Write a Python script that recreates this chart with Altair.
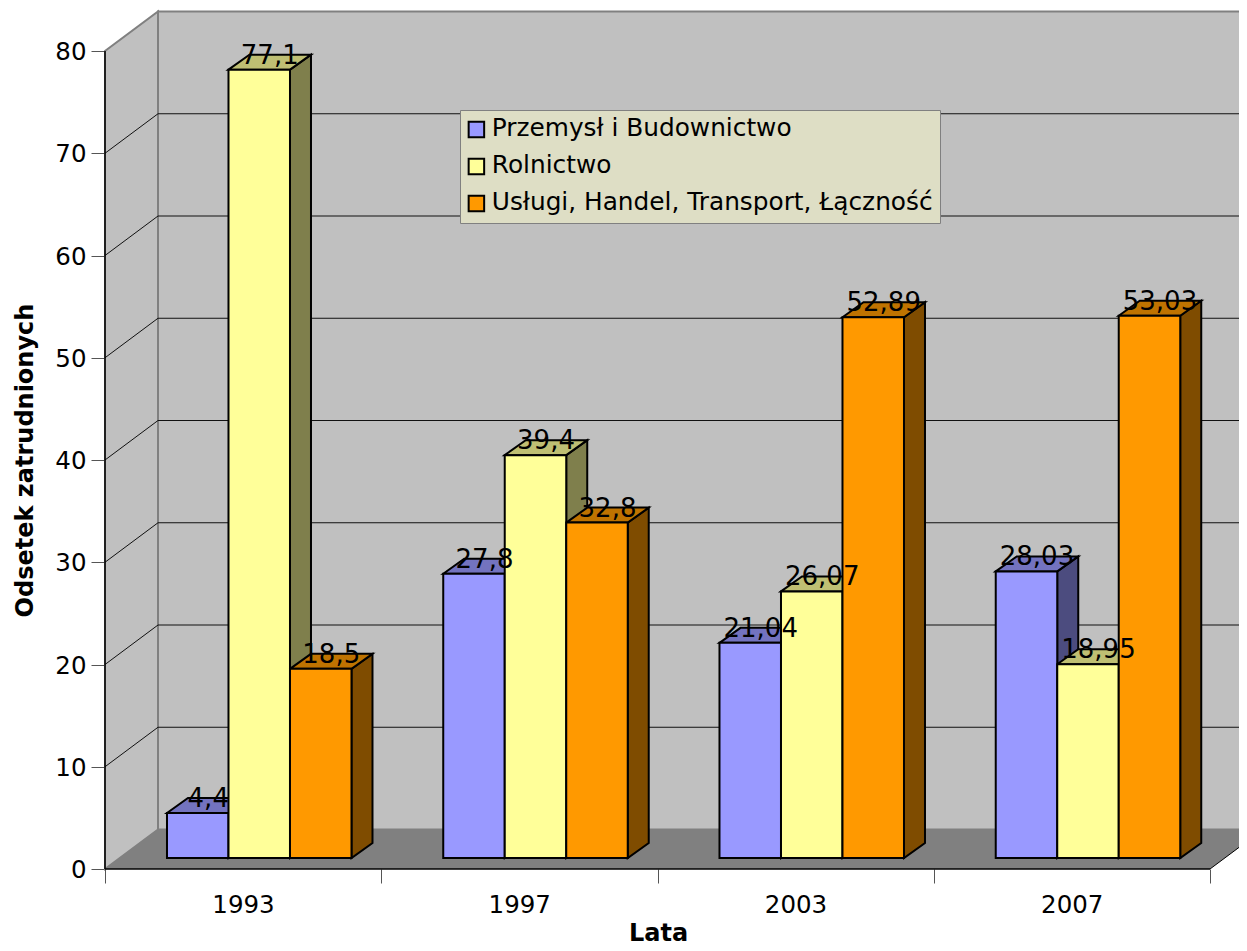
import altair as alt
import pandas as pd

years = ["1993", "1997", "2003", "2007"]
series = ["Przemysł i Budownictwo", "Rolnictwo", "Usługi, Handel, Transport, Łączność"]
przemysl = [4.4, 27.8, 21.04, 28.03]
rolnictwo = [77.1, 39.4, 26.07, 18.95]
uslugi = [18.5, 32.8, 52.89, 53.03]
front_colors = ["#9999FF", "#FFFF99", "#FF9900"]
top_colors = ["#7373BF", "#BFBF73", "#BF7300"]
side_colors = ["#4C4C7F", "#7F7F4C", "#7F4C00"]
y_ticks = [0, 10, 20, 30, 40, 50, 60, 70, 80]

FONT = "DejaVu Sans"
PX_X = 276.25
PX_Y = 10.225
W_D, W_H = 53 / PX_X, 39.5 / PX_Y    # depth of the box
B_D, B_H = 21 / PX_X, 15 / PX_Y      # depth of a bar
BASE = 11 / PX_Y
OFF, BW = 0.2244, 61.5 / PX_X
XEND = 4 + W_D
plot_w, plot_h = 1134, 858
XMAX = plot_w / PX_X
YMAX = plot_h / PX_Y

fronts, tops, sides, labels = [], [], [], []
for i, year in enumerate(years):
    for j, vals in enumerate([przemysl, rolnictwo, uslugi]):
        v = vals[i]
        x0 = i + OFF + j * BW
        t = BASE + v
        bid = f"{year}-{j}"
        fronts.append(dict(x=x0, x2=x0 + BW, y=t, y2=BASE, s=series[j]))
        for px, py, py2 in [(x0, t, t), (x0 + B_D, t + B_H, t),
                            (x0 + BW, t + B_H, t), (x0 + BW + B_D, t + B_H, t + B_H)]:
            tops.append(dict(id=bid, x=px, y=py, y2=py2, c=top_colors[j]))
        for px, py, py2 in [(x0 + BW, t, BASE), (x0 + BW + B_D, t + B_H, BASE + B_H)]:
            sides.append(dict(id=bid, x=px, y=py, y2=py2, c=side_colors[j]))
        labels.append(dict(x=x0 + BW / 2 + B_D / 2, y=t + B_H, t=str(v).replace(".", ",")))

xs = alt.Scale(domain=[0, XMAX], nice=False, zero=False)
ys = alt.Scale(domain=[0, YMAX], nice=False, zero=False)
axis_label_expr = "[" + ",".join(f"'{y}'" for y in years) + ",''][datum.value]"
x_axis = alt.Axis(
    values=[0, 1, 2, 3, 4], labelExpr=axis_label_expr, labelOffset=138, labelPadding=10,
    labelFont=FONT, labelFontSize=24.5, labelColor="#000000", labelOverlap=False, labelFlush=False,
    tickSize=14, tickColor="#555555", tickWidth=1, domain=False, grid=False,
    title="Lata", titleFont=FONT, titleFontSize=24, titleFontWeight="bold", titleColor="#000000",
    titleX=553, titleY=64, titleBaseline="middle", titleAnchor="middle", titleAlign="center")
y_axis = alt.Axis(
    values=y_ticks, labelPadding=5, labelFont=FONT, labelFontSize=24.5, labelColor="#000000",
    labelOffset=1.5,
    tickSize=14, tickColor="#555555", tickWidth=1, domain=False, grid=False, labelOverlap=False,
    labelFlush=False,
    title="Odsetek zatrudnionych", titleFont=FONT, titleFontSize=24, titleFontWeight="bold",
    titleColor="#000000", titleX=-80, titleY=449, titleBaseline="middle", titleAnchor="middle",
    titleAlign="center")
X = alt.X("x:Q", scale=xs, axis=x_axis)
Y = alt.Y("y:Q", scale=ys, axis=y_axis)

left_wall = alt.Chart(pd.DataFrame([dict(x=0, y=0, y2=80), dict(x=W_D, y=W_H, y2=80 + W_H)])).mark_area(
    orient="vertical", color="#C0C0C0", stroke="#808080", strokeWidth=2).encode(X, Y, y2="y2:Q")
back_wall = alt.Chart(pd.DataFrame([dict(x=W_D, x2=XEND, y=W_H, y2=80 + W_H)])).mark_rect(
    color="#C0C0C0", stroke="#808080", strokeWidth=2).encode(X, x2="x2:Q", y=Y, y2="y2:Q")
floor = alt.Chart(pd.DataFrame([
    dict(x=0, y=0, y2=0), dict(x=W_D, y=W_H, y2=0),
    dict(x=4, y=W_H, y2=0), dict(x=XEND, y=W_H, y2=W_H)])).mark_area(
    orient="vertical", color="#808080").encode(X, Y, y2="y2:Q")

grid_back = alt.Chart(pd.DataFrame([dict(x=W_D, x2=XEND, y=v + W_H) for v in y_ticks[1:-1]])).mark_rule(
    color="#111111", strokeWidth=1).encode(X, x2="x2:Q", y=Y)
diag_rows = []
for v in y_ticks[1:-1]:
    diag_rows += [dict(id=v, x=0, y=v), dict(id=v, x=W_D, y=v + W_H)]
grid_diag = alt.Chart(pd.DataFrame(diag_rows)).mark_line(color="#111111", strokeWidth=1).encode(X, Y, detail="id:N")

right_diag = alt.Chart(pd.DataFrame([dict(x=4, y=0), dict(x=XEND, y=W_H)])).mark_line(
    color="#000000", strokeWidth=1).encode(X, Y)
y_line = alt.Chart(pd.DataFrame([dict(x=0, y=0, y2=80)])).mark_rule(color="#000000", strokeWidth=1.5).encode(X, y=Y, y2="y2:Q")
x_line = alt.Chart(pd.DataFrame([dict(x=0, x2=4, y=0)])).mark_rule(color="#000000", strokeWidth=1.5).encode(X, x2="x2:Q", y=Y)

side_layer = alt.Chart(pd.DataFrame(sides)).mark_area(orient="vertical", stroke="#000000", strokeWidth=2).encode(
    X, Y, y2="y2:Q", fill=alt.Fill("c:N", scale=None), detail="id:N")
top_layer = alt.Chart(pd.DataFrame(tops)).mark_area(orient="vertical", stroke="#000000", strokeWidth=2).encode(
    X, Y, y2="y2:Q", fill=alt.Fill("c:N", scale=None), detail="id:N")
front_layer = alt.Chart(pd.DataFrame(fronts)).mark_rect(stroke="#000000", strokeWidth=2).encode(
    X, x2="x2:Q", y=Y, y2="y2:Q",
    color=alt.Color("s:N", scale=alt.Scale(domain=series, range=front_colors), legend=alt.Legend(
        title=None, orient="none", legendX=355, legendY=99, fillColor="#DEDEC5", strokeColor="#808080",
        padding=7, labelFont=FONT, labelFontSize=24.8, labelColor="#000000", labelLimit=600,
        symbolType="square", symbolSize=240, symbolStrokeColor="#000000", symbolStrokeWidth=2,
        symbolOpacity=1, symbolOffset=-3, labelOffset=3, rowPadding=11)),
)
label_layer = alt.Chart(pd.DataFrame(labels)).mark_text(
    font=FONT, fontSize=26, color="#000000", baseline="middle", align="center", dy=1).encode(X, Y, text="t:N")

chart = alt.layer(
    left_wall, back_wall, floor, grid_back, grid_diag, right_diag,
    side_layer, top_layer, front_layer, label_layer, y_line, x_line,
).properties(
    width=plot_w, height=plot_h,
    autosize=alt.AutoSizeParams(type="none"),
    padding={"left": 97, "top": 3, "right": 0, "bottom": 80},
    background="#FFFFFF",
).configure_view(stroke=None)

chart.save("out.html", embed_options={"renderer": "svg", "actions": False})
